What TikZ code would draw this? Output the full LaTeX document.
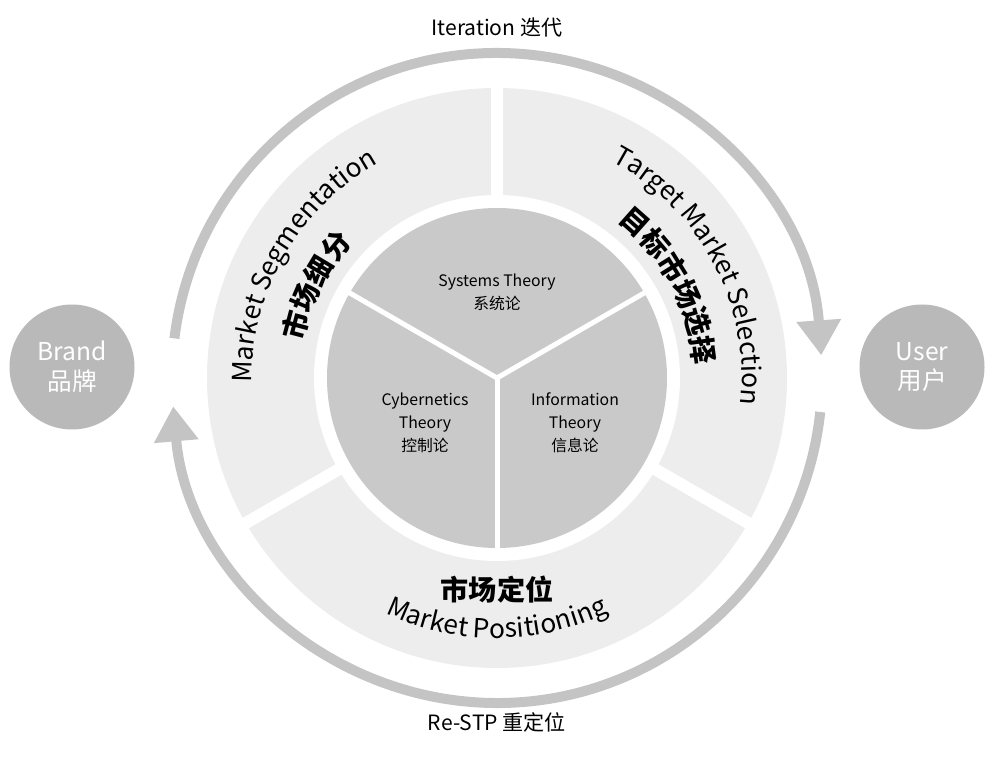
\documentclass[tikz,border=0pt]{standalone}
\usepackage{fontspec}
\setmainfont{Noto Sans CJK SC}
\usepackage{tikz}
\usetikzlibrary{arrows.meta,decorations.text}
\definecolor{ringgray}{HTML}{EDEDED}
\definecolor{coregray}{HTML}{C9C9C9}
\definecolor{loopgray}{HTML}{C4C4C4}
\definecolor{usergray}{HTML}{B9B9B9}
\tikzset{
  loop/.style={line width=0.2cm,loopgray,-{Triangle[width=0.85cm,length=0.7cm]}},
  side/.style={circle,fill=usergray,minimum size=2.5cm,text=white,font=\fontsize{14}{17}\selectfont,align=center,inner sep=0pt},
  core/.style={align=center,font=\fontsize{9}{13}\selectfont}
}
\begin{document}
\begin{tikzpicture}
  \useasboundingbox (0,0) rectangle (20,-15.22);
  \coordinate (c) at (9.94,-7.56);

  % ring and core
  \fill [ringgray] (c) circle [radius=5.8];
  \fill [white] (c) circle [radius=3.66];
  \foreach \a in {90,210,330}
    \draw [white,line width=0.24cm] (c) -- ++(\a:5.9);
  \fill [coregray] (c) circle [radius=3.4];
  \foreach \a in {30,150,270}
    \draw [white,line width=0.1cm] (c) -- ++(\a:3.45);

  % loop arrows
  \draw [loop] (c) ++(173:6.5) arc [start angle=173,end angle=4,radius=6.5];
  \draw [loop] (c) ++(-6:6.5) arc [start angle=-6,end angle=-175,radius=6.5];

  % texts on the ring
  \path [decorate,decoration={text along path,text align=center,
      text={|\fontsize{15}{15}\selectfont|Market Segmentation}}]
    (c) ++(240:4.9) arc [start angle=240,end angle=60,radius=4.9];
  \path [decorate,decoration={text along path,text align=center,
      text={|\fontsize{16}{16}\selectfont\bfseries|市场细分}}]
    (c) ++(243:3.95) arc [start angle=243,end angle=63,radius=3.95];
  \path [decorate,decoration={text along path,text align=center,
      text={|\fontsize{15}{15}\selectfont|Target Market Selection}}]
    (c) ++(118:4.9) arc [start angle=118,end angle=-62,radius=4.9];
  \path [decorate,decoration={text along path,text align=center,
      text={|\fontsize{16}{16}\selectfont\bfseries|目标市场选择}}]
    (c) ++(118:3.95) arc [start angle=118,end angle=-62,radius=3.95];
  \path [decorate,decoration={text along path,text align=center,
      text={|\fontsize{15}{15}\selectfont|Market Positioning}}]
    (c) ++(180:5.2) arc [start angle=180,end angle=360,radius=5.2];
  \node (pos) at (9.94,-11.8) {\fontsize{16}{16}\selectfont\bfseries 市场定位};

  % core texts
  \node [core] (sys) at (9.94,-5.85) {Systems Theory\\系统论};
  \node [core] (cyb) at (8.5,-8.45) {Cybernetics\\Theory\\控制论};
  \node [core] (inf) at (11.5,-8.45) {Information\\Theory\\信息论};

  % sides
  \node [side] (brand) at (1.44,-7.34) {Brand\\品牌};
  \node [side] (user) at (18.44,-7.34) {User\\用户};
  \node (iter) at (9.94,-0.56) {\fontsize{12}{12}\selectfont Iteration 迭代};
  \node (restp) at (9.94,-14.44) {\fontsize{12}{12}\selectfont Re-STP 重定位};
\end{tikzpicture}
\end{document}
